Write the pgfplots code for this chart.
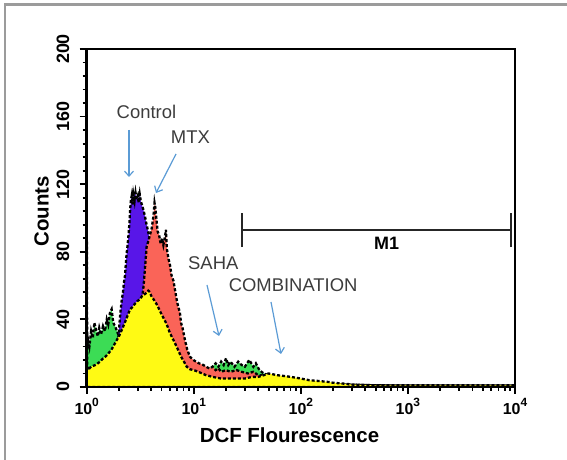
\documentclass[border=0pt]{standalone}
\usepackage{pgfplots}
\pgfplotsset{compat=1.18}
\usepackage{fontspec}
\setmainfont{Liberation Sans}
\usetikzlibrary{arrows.meta}
\definecolor{ctl}{RGB}{88,22,232}
\definecolor{mtx}{RGB}{250,100,88}
\definecolor{saha}{RGB}{60,220,85}
\definecolor{comb}{RGB}{255,250,20}
\definecolor{arr}{RGB}{91,155,213}
\definecolor{txt}{RGB}{60,60,60}
\definecolor{frm}{RGB}{155,155,155}
\newcommand\tl[1]{10\raisebox{0.5em}{\fontsize{12}{12}\selectfont #1}}
\begin{document}
\begin{tikzpicture}[x=1bp,y=1bp]
\path[use as bounding box] (0,0) rectangle (567,460);
\draw[frm, line width=2.5bp] (5,0) -- (5,455.5) -- (567,455.5);
\begin{axis}[
  at={(86.7bp,73bp)}, anchor=south west,
  scale only axis, width=428.3bp, height=338bp,
  xmode=log, xmin=1, xmax=10000, ymin=0, ymax=200,
  xtick={1,10,100,1000,10000},
  xticklabels={\tl{0},\tl{1},\tl{2},\tl{3},\tl{4}},
  ytick={0,40,80,120,160,200},
  yticklabels={0,40,80,120,160,200},
  minor y tick num=4,
  tick align=outside, xtick pos=bottom, ytick pos=left,
  major tick length=7bp, minor tick length=4bp,
  tick style={black, line width=1.8bp},
  axis line style={line width=2.5bp},
  axis on top,
  xticklabel style={font=\bfseries\fontsize{16}{16}\selectfont, yshift=-1bp},
  yticklabel style={rotate=90, anchor=south, yshift=7bp, font=\bfseries\fontsize{18}{18}\selectfont},
  xlabel={DCF Flourescence},
  xlabel style={at={(axis description cs:0.4735,-0.142)}, anchor=center, font=\bfseries\fontsize{20.5}{20.5}\selectfont},
  ylabel={Counts},
  ylabel style={at={(axis description cs:-0.1055,0.52)}, anchor=center, font=\bfseries\fontsize{20.5}{20.5}\selectfont},
  every axis plot/.append style={draw=black, line width=2.3bp, dash pattern=on 3bp off 2bp},
]
% SAHA
\addplot[fill=saha] coordinates {
(1,22) (1.03,28) (1.06,24) (1.1,33) (1.14,29) (1.18,38) (1.22,34) (1.27,30) (1.31,35) (1.36,31) (1.42,36) (1.48,33) (1.54,40) (1.59,37) (1.65,44) (1.71,46) (1.77,38) (1.84,36) (1.92,33) (2.0,30) (2.1,32) (2.3,36) (2.6,40) (3,44) (3.5,45) (4,44) (5,38) (6,28) (7,20) (8,15) (9,12) (10,11) (11,10) (12,10) (13,11) (14,10) (15,12) (16,14) (17,12) (18,15) (19,13) (20,17) (21,13) (22,15) (24,12) (26,15) (28,13) (30,12) (33,16) (36,12) (38,14) (41,10) (45,8) (50,7) (60,5) (80,4) (100,3) (150,2) (300,1) (1000,0.5) (10000,0.5)
} \closedcycle;
% Control
\addplot[fill=ctl] coordinates {
(1.7,3) (1.8,10) (1.9,18) (1.95,25) (2.02,37) (2.07,45) (2.12,51) (2.18,56) (2.23,62) (2.28,66) (2.32,73) (2.36,79) (2.41,84) (2.45,89) (2.5,96) (2.54,104) (2.58,110) (2.63,113) (2.68,108) (2.73,114) (2.8,110) (2.86,115) (2.93,111) (3.0,113) (3.06,109) (3.13,114) (3.2,110) (3.27,108) (3.38,105) (3.5,101) (3.6,97) (3.75,92) (3.9,86) (4.05,80) (4.2,72) (4.4,63) (4.6,55) (5,44) (5.5,33) (6,25) (7,14) (8,8) (10,5) (15,3) (30,1.5) (100,0.5) (10000,0.3)
} \closedcycle;
% MTX
\addplot[fill=mtx] coordinates {
(2.4,3) (2.6,8) (2.8,15) (3.0,28) (3.15,40) (3.26,50) (3.4,60) (3.5,70) (3.63,83) (3.75,86) (3.9,90) (4.05,94) (4.2,101) (4.3,109) (4.38,106) (4.5,98) (4.6,92) (4.74,90) (4.9,85) (5.05,88) (5.2,84) (5.35,88) (5.5,93) (5.6,82) (5.8,76) (6.0,72) (6.2,66) (6.45,63) (6.7,57) (7.0,50) (7.2,47) (7.42,44) (7.6,38) (7.85,35) (8.26,28) (8.7,22) (9.2,18) (9.9,16) (10.5,15) (11.2,14) (12.3,13) (13,12) (14,11) (15,12) (16,10) (17,11) (18,9) (20,10) (22,9) (25,10) (28,9) (32,8) (36,9) (40,7) (45,7) (50,6) (60,5) (70,4) (85,3.5) (100,3) (150,2) (250,1.5) (500,1) (1000,0.8) (10000,0.8)
} \closedcycle;
% Combination
\addplot[fill=comb] coordinates {
(1,0) (1,114) (1.012,12) (1.03,10) (1.06,11) (1.1,12) (1.15,12.5) (1.2,13) (1.27,14) (1.33,15) (1.4,16.5) (1.5,18) (1.6,20) (1.7,22) (1.77,24) (1.88,27) (2.0,30) (2.1,33) (2.2,36) (2.3,39) (2.4,42) (2.54,46) (2.65,47) (2.8,49) (3.0,51) (3.15,52) (3.3,54) (3.5,55) (3.65,56) (3.76,57) (3.9,56) (4.0,54) (4.2,52) (4.5,49) (4.75,46) (5.0,43) (5.3,40) (5.6,37) (5.9,33) (6.2,30) (6.55,27) (6.9,24) (7.25,21) (7.6,18) (8.1,15) (8.6,12) (9.2,10.5) (10,10) (11,9) (12,8) (13,7) (15,6) (18,5) (20,5) (25,5) (30,5) (35,6) (40,6) (45,7) (50,8) (55,7.5) (60,7) (70,6.5) (80,6) (90,5.5) (100,5) (120,4) (150,3.5) (180,3) (200,2.5) (250,2) (300,1.5) (400,1.2) (500,1) (1000,1) (10000,1)
} \closedcycle;
% M1 gate
\draw[black!85, line width=2.2bp, solid] (axis cs:28.2,92.9) -- (axis cs:9100,92.9);
\draw[black!85, line width=2.2bp, solid] (axis cs:28.2,82.8) -- (axis cs:28.2,102.9);
\draw[black!85, line width=2.2bp, solid] (axis cs:9100,82.8) -- (axis cs:9100,102.9);
\end{axis}
\node[anchor=base west, inner sep=0, font=\bfseries\fontsize{18}{18}\selectfont] at (374,210) {M1};
\begin{scope}[every node/.style={anchor=base west, inner sep=0, text=txt, font=\fontsize{18.5}{18.5}\selectfont}]
\node at (116.5,341.7) {Control};
\node at (170.7,316.7) {MTX};
\node at (188,190.7) {SAHA};
\node at (228.6,168.3) {COMBINATION};
\end{scope}
\begin{scope}[arr, line width=1.2bp, -{Straight Barb[length=5bp,width=9bp]}]
\draw (129,330) -- (129,283);
\draw (176,306) -- (156,267);
\draw (207,175) -- (219,124);
\draw (271,158) -- (281,106);
\end{scope}
\end{tikzpicture}
\end{document}
